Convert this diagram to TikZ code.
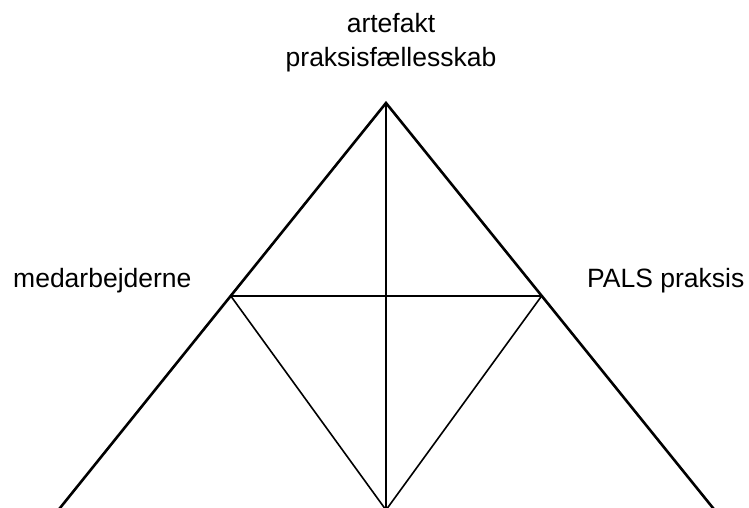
\documentclass[tikz,border=0pt]{standalone}
\usepackage{fontspec}
\setmainfont{Liberation Sans}
\begin{document}
\begin{tikzpicture}[x=1bp,y=-1bp,
  outer/.style={line width=2.6bp,line cap=butt,line join=miter},
  inner/.style={line width=1.6bp},
  lbl/.style={inner sep=0pt,font=\fontsize{26.5bp}{30bp}\selectfont}]
  \useasboundingbox (0,0) rectangle (749,508);
  \clip (0,0) rectangle (749,508);
  % corner points of the triangle
  \coordinate (top) at (386,103);
  \coordinate (bl) at (58.4,510);
  \coordinate (br) at (714.6,510);
  \coordinate (bc) at (386,510);
  \coordinate (ml) at (230.8,296);
  \coordinate (mr) at (541.6,296);
  % labels
  \node[lbl,anchor=base] (t1) at (391,33) {artefakt};
  \node[lbl,anchor=base] (t2) at (391,67) {praksisfællesskab};
  \node[lbl,anchor=base west] (lt) at (13,288) {medarbejderne};
  \node[lbl,anchor=base west] (rt) at (587,288) {PALS praksis};
  % outer sides
  \draw[outer] (bl) -- (top) -- (br);
  % inner lines
  \draw[inner] (top) -- (bc);
  \draw[inner] (ml) -- (mr);
  \draw[inner] (ml) -- (bc) -- (mr);
\end{tikzpicture}
\end{document}
